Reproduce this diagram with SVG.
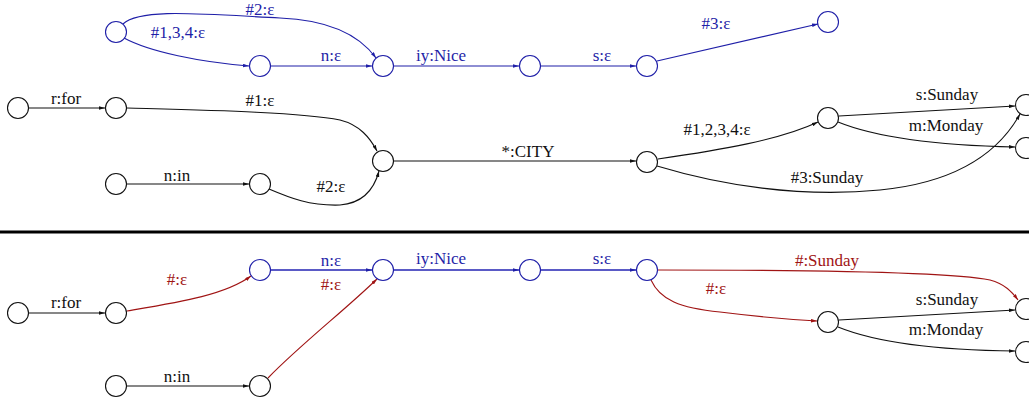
<svg xmlns="http://www.w3.org/2000/svg" width="1029" height="400" viewBox="0 0 1029 400">
  <style>
    .st { fill: #fff; stroke-width: 1.1; }
    .k { stroke: #111; }
    .b { stroke: #1f1fa8; }
    .e { fill: none; stroke-width: 1.1; }
    .ek { stroke: #111; marker-end: url(#ak); }
    .eb { stroke: #1f1fa8; marker-end: url(#ab); }
    .ebw { stroke: #5a5ac6; stroke-width: 2; marker-end: url(#ab); }
    .er { stroke: #a01414; marker-end: url(#ar); }
    text { font-family: "Liberation Serif", "Times New Roman", serif; font-size: 17px; text-anchor: middle; }
    .tk { fill: #111; }
    .tb { fill: #1f1fa8; }
    .tr { fill: #a01414; }
  </style>
  <defs>
    <marker id="ak" viewBox="0 0 10 6" refX="10" refY="3" markerWidth="6" markerHeight="4" markerUnits="userSpaceOnUse" orient="auto">
      <path d="M0,0 L10,3 L0,6 z" fill="#111"/>
    </marker>
    <marker id="ab" viewBox="0 0 10 6" refX="10" refY="3" markerWidth="6" markerHeight="4" markerUnits="userSpaceOnUse" orient="auto">
      <path d="M0,0 L10,3 L0,6 z" fill="#1f1fa8"/>
    </marker>
    <marker id="ar" viewBox="0 0 10 6" refX="10" refY="3" markerWidth="6" markerHeight="4" markerUnits="userSpaceOnUse" orient="auto">
      <path d="M0,0 L10,3 L0,6 z" fill="#a01414"/>
    </marker>
  </defs>

  <!-- connectors -->
  <g id="edges">
    <!-- upper transducer -->
    <path class="e eb" d="M123,24 C140,8 200,14 280,18 C330,20 360,36 376,58"/>
    <path class="e eb" d="M124,38 C150,52 200,62 249,66"/>
    <path class="e eb" d="M271,66 L372,66"/>
    <path class="e eb" d="M394,66 L519,66"/>
    <path class="e eb" d="M541,66 L636,66"/>
    <path class="e eb" d="M657,61 L818,24"/>
    <path class="e ek" d="M29,108 L105,108"/>
    <path class="e ek" d="M127,108 C200,110 300,112 340,120 C360,125 370,138 377,151"/>
    <path class="e ek" d="M127,184 L249,184"/>
    <path class="e ek" d="M269,189 C290,198 310,206 340,205 C365,203 375,186 379,171"/>
    <path class="e ek" d="M394,161 L636,161"/>
    <path class="e ek" d="M658,159 C720,150 780,140 818,122"/>
    <path class="e ek" d="M657,166 C720,185 800,198 880,190 C960,182 1000,150 1020,114"/>
    <path class="e ek" d="M839,116 L1015,106"/>
    <path class="e ek" d="M838,122 C870,135 920,145 1015,147"/>

    <!-- lower transducer -->
    <path class="e ek" d="M29,313 L105,313"/>
    <path class="e er" d="M127,311 C180,302 225,295 251,276"/>
    <path class="e ebw" d="M271,270 L372,270"/>
    <path class="e ek" d="M127,386 L249,386"/>
    <path class="e er" d="M268,378 C300,345 345,310 377,279"/>
    <path class="e ebw" d="M394,270 L519,270"/>
    <path class="e ebw" d="M541,270 L636,270"/>
    <path class="e er" d="M658,270 C800,270 950,272 990,280 C1005,284 1012,292 1018,300"/>
    <path class="e er" d="M651,280 C660,300 680,308 720,312 C760,317 800,320 817,321"/>
    <path class="e ek" d="M839,320 L1015,310"/>
    <path class="e ek" d="M838,327 C870,340 920,350 1015,351"/>
  </g>

  <!-- separator -->
  <line x1="0" y1="232" x2="1029" y2="232" stroke="#000" stroke-width="3"/>

  <!-- edge labels -->
  <g id="labels">
    <text class="tb" x="260" y="15">#2:ε</text>
    <text class="tb" x="178" y="38">#1,3,4:ε</text>
    <text class="tb" x="331" y="61">n:ε</text>
    <text class="tb" x="441" y="61">iy:Nice</text>
    <text class="tb" x="602" y="61">s:ε</text>
    <text class="tb" x="716" y="29">#3:ε</text>
    <text class="tk" x="66" y="104">r:for</text>
    <text class="tk" x="260" y="106">#1:ε</text>
    <text class="tk" x="177" y="181">n:in</text>
    <text class="tk" x="331" y="192">#2:ε</text>
    <text class="tk" x="528" y="157">*:CITY</text>
    <text class="tk" x="717" y="135">#1,2,3,4:ε</text>
    <text class="tk" x="827" y="183">#3:Sunday</text>
    <text class="tk" x="947" y="100">s:Sunday</text>
    <text class="tk" x="946" y="131">m:Monday</text>

    <text class="tk" x="66" y="308">r:for</text>
    <text class="tr" x="177" y="285">#:ε</text>
    <text class="tb" x="331" y="266">n:ε</text>
    <text class="tr" x="331" y="290">#:ε</text>
    <text class="tk" x="177" y="382">n:in</text>
    <text class="tb" x="441" y="264">iy:Nice</text>
    <text class="tb" x="602" y="264">s:ε</text>
    <text class="tr" x="827" y="266">#:Sunday</text>
    <text class="tr" x="716" y="294">#:ε</text>
    <text class="tk" x="947" y="305">s:Sunday</text>
    <text class="tk" x="946" y="335">m:Monday</text>
  </g>

  <!-- states, upper transducer -->
  <g id="u0"><circle class="st b" cx="116" cy="32" r="10.5"/></g>
  <g id="u1"><circle class="st b" cx="260" cy="66" r="10.5"/></g>
  <g id="u2"><circle class="st b" cx="383" cy="66" r="10.5"/></g>
  <g id="u3"><circle class="st b" cx="530" cy="66" r="10.5"/></g>
  <g id="u4"><circle class="st b" cx="647" cy="66" r="10.5"/></g>
  <g id="u5"><circle class="st b" cx="828" cy="22" r="10.5"/></g>
  <g id="u6"><circle class="st k" cx="18" cy="108" r="10.5"/></g>
  <g id="u7"><circle class="st k" cx="116" cy="108" r="10.5"/></g>
  <g id="u8"><circle class="st k" cx="383" cy="161" r="10.5"/></g>
  <g id="u9"><circle class="st k" cx="116" cy="184" r="10.5"/></g>
  <g id="u10"><circle class="st k" cx="260" cy="184" r="10.5"/></g>
  <g id="u11"><circle class="st k" cx="647" cy="162" r="10.5"/></g>
  <g id="u12"><circle class="st k" cx="828" cy="118" r="10.5"/></g>
  <g id="u13"><circle class="st k" cx="1026" cy="105" r="10.5"/></g>
  <g id="u14"><circle class="st k" cx="1026" cy="148" r="10.5"/></g>

  <!-- states, lower transducer -->
  <g id="l0"><circle class="st k" cx="18" cy="313" r="10.5"/></g>
  <g id="l1"><circle class="st k" cx="116" cy="313" r="10.5"/></g>
  <g id="l2"><circle class="st b" cx="260" cy="270" r="10.5"/></g>
  <g id="l3"><circle class="st b" cx="383" cy="270" r="10.5"/></g>
  <g id="l4"><circle class="st k" cx="116" cy="386" r="10.5"/></g>
  <g id="l5"><circle class="st k" cx="260" cy="386" r="10.5"/></g>
  <g id="l6"><circle class="st b" cx="530" cy="270" r="10.5"/></g>
  <g id="l7"><circle class="st b" cx="647" cy="270" r="10.5"/></g>
  <g id="l8"><circle class="st k" cx="828" cy="322" r="10.5"/></g>
  <g id="l9"><circle class="st k" cx="1026" cy="309" r="10.5"/></g>
  <g id="l10"><circle class="st k" cx="1026" cy="352" r="10.5"/></g>
</svg>
